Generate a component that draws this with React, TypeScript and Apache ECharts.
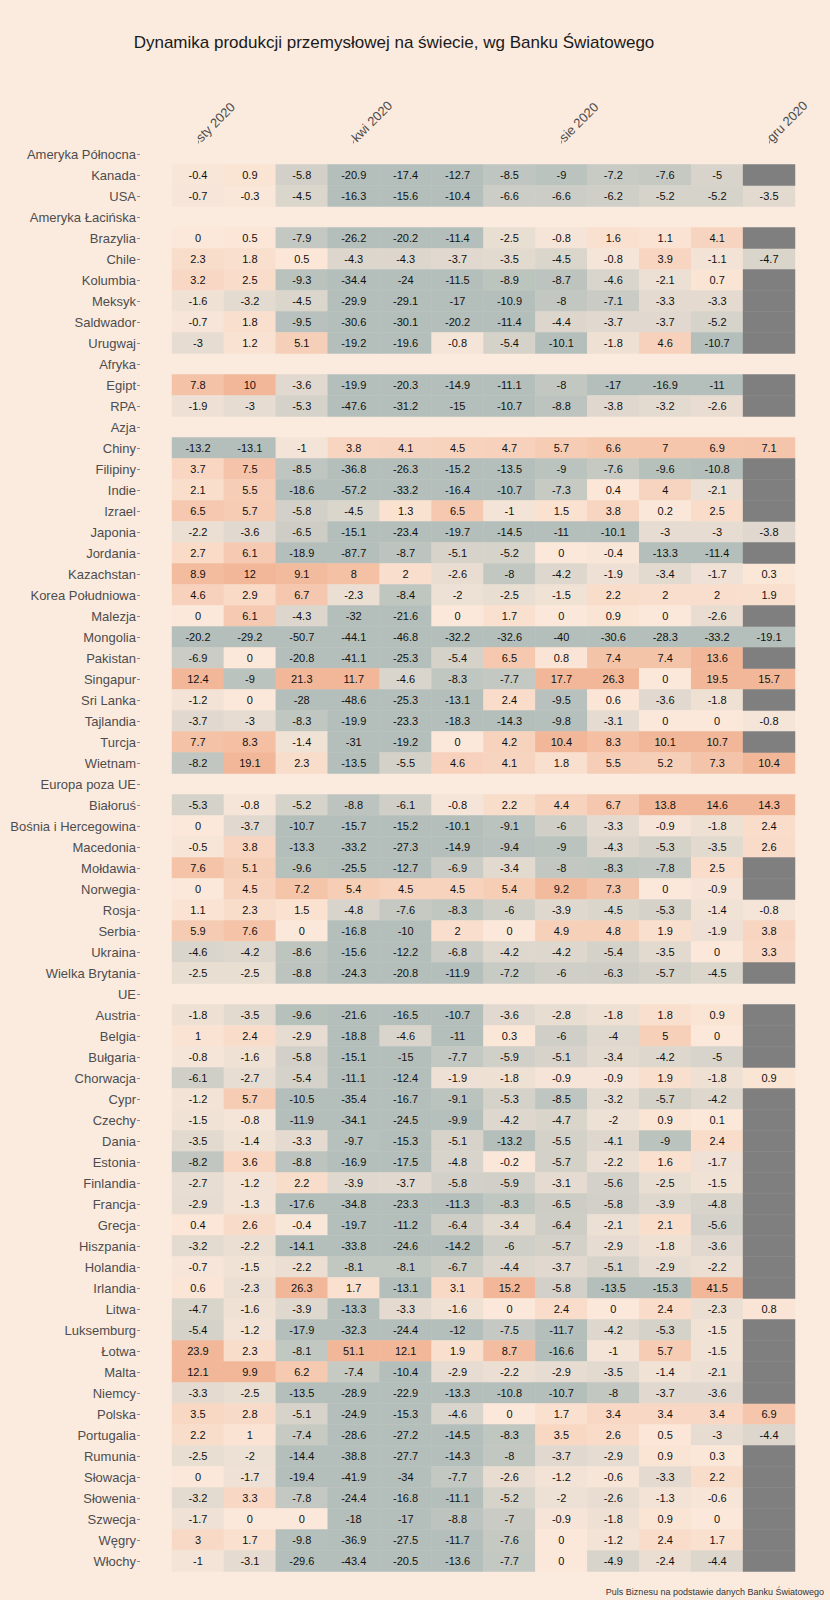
import React, { useEffect, useRef } from "react";
import * as echarts from "echarts";

type Row = [string, (number | null)[]];

const months = [
  "sty 2020", "lut 2020", "mar 2020", "kwi 2020", "maj 2020", "cze 2020",
  "lip 2020", "sie 2020", "wrz 2020", "paź 2020", "lis 2020", "gru 2020",
];
const labeledMonths = [0, 3, 7, 11];

const regionNames = [
  "Ameryka Północna", "Ameryka Łacińska", "Afryka", "Azja", "Europa poza UE", "UE",
];

const northAmerica: Row[] = [
  ["Kanada", [-0.4, 0.9, -5.8, -20.9, -17.4, -12.7, -8.5, -9, -7.2, -7.6, -5, null]],
  ["USA", [-0.7, -0.3, -4.5, -16.3, -15.6, -10.4, -6.6, -6.6, -6.2, -5.2, -5.2, -3.5]],
];

const latinAmerica: Row[] = [
  ["Brazylia", [0, 0.5, -7.9, -26.2, -20.2, -11.4, -2.5, -0.8, 1.6, 1.1, 4.1, null]],
  ["Chile", [2.3, 1.8, 0.5, -4.3, -4.3, -3.7, -3.5, -4.5, -0.8, 3.9, -1.1, -4.7]],
  ["Kolumbia", [3.2, 2.5, -9.3, -34.4, -24, -11.5, -8.9, -8.7, -4.6, -2.1, 0.7, null]],
  ["Meksyk", [-1.6, -3.2, -4.5, -29.9, -29.1, -17, -10.9, -8, -7.1, -3.3, -3.3, null]],
  ["Saldwador", [-0.7, 1.8, -9.5, -30.6, -30.1, -20.2, -11.4, -4.4, -3.7, -3.7, -5.2, null]],
  ["Urugwaj", [-3, 1.2, 5.1, -19.2, -19.6, -0.8, -5.4, -10.1, -1.8, 4.6, -10.7, null]],
];

const africa: Row[] = [
  ["Egipt", [7.8, 10, -3.6, -19.9, -20.3, -14.9, -11.1, -8, -17, -16.9, -11, null]],
  ["RPA", [-1.9, -3, -5.3, -47.6, -31.2, -15, -10.7, -8.8, -3.8, -3.2, -2.6, null]],
];

const asia: Row[] = [
  ["Chiny", [-13.2, -13.1, -1, 3.8, 4.1, 4.5, 4.7, 5.7, 6.6, 7, 6.9, 7.1]],
  ["Filipiny", [3.7, 7.5, -8.5, -36.8, -26.3, -15.2, -13.5, -9, -7.6, -9.6, -10.8, null]],
  ["Indie", [2.1, 5.5, -18.6, -57.2, -33.2, -16.4, -10.7, -7.3, 0.4, 4, -2.1, null]],
  ["Izrael", [6.5, 5.7, -5.8, -4.5, 1.3, 6.5, -1, 1.5, 3.8, 0.2, 2.5, null]],
  ["Japonia", [-2.2, -3.6, -6.5, -15.1, -23.4, -19.7, -14.5, -11, -10.1, -3, -3, -3.8]],
  ["Jordania", [2.7, 6.1, -18.9, -87.7, -8.7, -5.1, -5.2, 0, -0.4, -13.3, -11.4, null]],
  ["Kazachstan", [8.9, 12, 9.1, 8, 2, -2.6, -8, -4.2, -1.9, -3.4, -1.7, 0.3]],
  ["Korea Południowa", [4.6, 2.9, 6.7, -2.3, -8.4, -2, -2.5, -1.5, 2.2, 2, 2, 1.9]],
  ["Malezja", [0, 6.1, -4.3, -32, -21.6, 0, 1.7, 0, 0.9, 0, -2.6, null]],
  ["Mongolia", [-20.2, -29.2, -50.7, -44.1, -46.8, -32.2, -32.6, -40, -30.6, -28.3, -33.2, -19.1]],
  ["Pakistan", [-6.9, 0, -20.8, -41.1, -25.3, -5.4, 6.5, 0.8, 7.4, 7.4, 13.6, null]],
  ["Singapur", [12.4, -9, 21.3, 11.7, -4.6, -8.3, -7.7, 17.7, 26.3, 0, 19.5, 15.7]],
  ["Sri Lanka", [-1.2, 0, -28, -48.6, -25.3, -13.1, 2.4, -9.5, 0.6, -3.6, -1.8, null]],
  ["Tajlandia", [-3.7, -3, -8.3, -19.9, -23.3, -18.3, -14.3, -9.8, -3.1, 0, 0, -0.8]],
  ["Turcja", [7.7, 8.3, -1.4, -31, -19.2, 0, 4.2, 10.4, 8.3, 10.1, 10.7, null]],
  ["Wietnam", [-8.2, 19.1, 2.3, -13.5, -5.5, 4.6, 4.1, 1.8, 5.5, 5.2, 7.3, 10.4]],
];

const europeNonEU: Row[] = [
  ["Białoruś", [-5.3, -0.8, -5.2, -8.8, -6.1, -0.8, 2.2, 4.4, 6.7, 13.8, 14.6, 14.3]],
  ["Bośnia i Hercegowina", [0, -3.7, -10.7, -15.7, -15.2, -10.1, -9.1, -6, -3.3, -0.9, -1.8, 2.4]],
  ["Macedonia", [-0.5, 3.8, -13.3, -33.2, -27.3, -14.9, -9.4, -9, -4.3, -5.3, -3.5, 2.6]],
  ["Mołdawia", [7.6, 5.1, -9.6, -25.5, -12.7, -6.9, -3.4, -8, -8.3, -7.8, 2.5, null]],
  ["Norwegia", [0, 4.5, 7.2, 5.4, 4.5, 4.5, 5.4, 9.2, 7.3, 0, -0.9, null]],
  ["Rosja", [1.1, 2.3, 1.5, -4.8, -7.6, -8.3, -6, -3.9, -4.5, -5.3, -1.4, -0.8]],
  ["Serbia", [5.9, 7.6, 0, -16.8, -10, 2, 0, 4.9, 4.8, 1.9, -1.9, 3.8]],
  ["Ukraina", [-4.6, -4.2, -8.6, -15.6, -12.2, -6.8, -4.2, -4.2, -5.4, -3.5, 0, 3.3]],
  ["Wielka Brytania", [-2.5, -2.5, -8.8, -24.3, -20.8, -11.9, -7.2, -6, -6.3, -5.7, -4.5, null]],
];

const eu: Row[] = [
  ["Austria", [-1.8, -3.5, -9.6, -21.6, -16.5, -10.7, -3.6, -2.8, -1.8, 1.8, 0.9, null]],
  ["Belgia", [1, 2.4, -2.9, -18.8, -4.6, -11, 0.3, -6, -4, 5, 0, null]],
  ["Bułgaria", [-0.8, -1.6, -5.8, -15.1, -15, -7.7, -5.9, -5.1, -3.4, -4.2, -5, null]],
  ["Chorwacja", [-6.1, -2.7, -5.4, -11.1, -12.4, -1.9, -1.8, -0.9, -0.9, 1.9, -1.8, 0.9]],
  ["Cypr", [-1.2, 5.7, -10.5, -35.4, -16.7, -9.1, -5.3, -8.5, -3.2, -5.7, -4.2, null]],
  ["Czechy", [-1.5, -0.8, -11.9, -34.1, -24.5, -9.9, -4.2, -4.7, -2, 0.9, 0.1, null]],
  ["Dania", [-3.5, -1.4, -3.3, -9.7, -15.3, -5.1, -13.2, -5.5, -4.1, -9, 2.4, null]],
  ["Estonia", [-8.2, 3.6, -8.8, -16.9, -17.5, -4.8, -0.2, -5.7, -2.2, 1.6, -1.7, null]],
  ["Finlandia", [-2.7, -1.2, 2.2, -3.9, -3.7, -5.8, -5.9, -3.1, -5.6, -2.5, -1.5, null]],
  ["Francja", [-2.9, -1.3, -17.6, -34.8, -23.3, -11.3, -8.3, -6.5, -5.8, -3.9, -4.8, null]],
  ["Grecja", [0.4, 2.6, -0.4, -19.7, -11.2, -6.4, -3.4, -6.4, -2.1, 2.1, -5.6, null]],
  ["Hiszpania", [-3.2, -2.2, -14.1, -33.8, -24.6, -14.2, -6, -5.7, -2.9, -1.8, -3.6, null]],
  ["Holandia", [-0.7, -1.5, -2.2, -8.1, -8.1, -6.7, -4.4, -3.7, -5.1, -2.9, -2.2, null]],
  ["Irlandia", [0.6, -2.3, 26.3, 1.7, -13.1, 3.1, 15.2, -5.8, -13.5, -15.3, 41.5, null]],
  ["Litwa", [-4.7, -1.6, -3.9, -13.3, -3.3, -1.6, 0, 2.4, 0, 2.4, -2.3, 0.8]],
  ["Luksemburg", [-5.4, -1.2, -17.9, -32.3, -24.4, -12, -7.5, -11.7, -4.2, -5.3, -1.5, null]],
  ["Łotwa", [23.9, 2.3, -8.1, 51.1, 12.1, 1.9, 8.7, -16.6, -1, 5.7, -1.5, null]],
  ["Malta", [12.1, 9.9, 6.2, -7.4, -10.4, -2.9, -2.2, -2.9, -3.5, -1.4, -2.1, null]],
  ["Niemcy", [-3.3, -2.5, -13.5, -28.9, -22.9, -13.3, -10.8, -10.7, -8, -3.7, -3.6, null]],
  ["Polska", [3.5, 2.8, -5.1, -24.9, -15.3, -4.6, 0, 1.7, 3.4, 3.4, 3.4, 6.9]],
  ["Portugalia", [2.2, 1, -7.4, -28.6, -27.2, -14.5, -8.3, 3.5, 2.6, 0.5, -3, -4.4]],
  ["Rumunia", [-2.5, -2, -14.4, -38.8, -27.7, -14.3, -8, -3.7, -2.9, 0.9, 0.3, null]],
  ["Słowacja", [0, -1.7, -19.4, -41.9, -34, -7.7, -2.6, -1.2, -0.6, -3.3, 2.2, null]],
  ["Słowenia", [-3.2, 3.3, -7.8, -24.4, -16.8, -11.1, -5.2, -2, -2.6, -1.3, -0.6, null]],
  ["Szwecja", [-1.7, 0, 0, -18, -17, -8.8, -7, -0.9, -1.8, 0.9, 0, null]],
  ["Węgry", [3, 1.7, -9.8, -36.9, -27.5, -11.7, -7.6, 0, -1.2, 2.4, 1.7, null]],
  ["Włochy", [-1, -3.1, -29.6, -43.4, -20.5, -13.6, -7.7, 0, -4.9, -2.4, -4.4, null]],
];

const regions: Row[][] = [northAmerica, latinAmerica, africa, asia, europeNonEU, eu];

const BG = "#fbebdf";
const FONT = "'Liberation Sans', Arial, Helvetica, sans-serif";

export default function App() {
  const ref = useRef<HTMLDivElement>(null);

  useEffect(() => {
    document.body.style.margin = "0";
    document.body.style.background = BG;
    const chart = echarts.init(ref.current as HTMLDivElement, null, { renderer: "svg" });

    const rowNames: string[] = [];
    const cells: number[][] = [];
    const missing: number[][] = [];
    regions.forEach((rows, ri) => {
      rowNames.push(regionNames[ri]);
      rows.forEach(([name, vals]) => {
        const y = rowNames.length;
        rowNames.push(name);
        vals.forEach((v, x) => {
          if (v === null) missing.push([x, y, 0]);
          else cells.push([x, y, v]);
        });
      });
    });

    const showIdx = (i: number) => labeledMonths.indexOf(i) >= 0;

    chart.setOption({
      animation: false,
      backgroundColor: BG,
      textStyle: { fontFamily: FONT },
      grid: { left: 172, right: 35, top: 143.5, bottom: 28.5, containLabel: false },
      xAxis: {
        type: "category",
        position: "top",
        data: months,
        splitArea: { show: false },
        axisLine: { show: false },
        axisTick: {
          show: true,
          length: 3,
          alignWithLabel: true,
          interval: (i: number) => showIdx(i),
          lineStyle: { color: "#8a8a8a", width: 1 },
        },
        axisLabel: {
          interval: (i: number) => showIdx(i),
          rotate: -45,
          margin: 4,
          fontSize: 13,
          color: "#4d4d4d",
          fontFamily: FONT,
        },
      },
      yAxis: {
        type: "category",
        inverse: true,
        data: rowNames,
        offset: 32,
        splitArea: { show: false },
        axisLine: { show: false },
        axisTick: {
          show: true,
          length: 3,
          alignWithLabel: true,
          interval: 0,
          lineStyle: { color: "#8a8a8a", width: 1 },
        },
        axisLabel: {
          interval: 0,
          margin: 4,
          fontSize: 13,
          color: "#4d4d4d",
          fontFamily: FONT,
        },
      },
      visualMap: [
        {
          type: "continuous",
          show: false,
          seriesIndex: 0,
          dimension: 2,
          min: -10,
          max: 10,
          inRange: { color: ["#b4bfbb", "#fbe8da", "#f2b798"] },
        },
        {
          type: "continuous",
          show: false,
          seriesIndex: 1,
          dimension: 2,
          min: -1,
          max: 1,
          inRange: { color: ["#7f7f7f", "#7f7f7f"] },
        },
      ],
      series: [
        {
          type: "heatmap",
          data: cells,
          itemStyle: { borderWidth: 0 },
          label: {
            show: true,
            fontSize: 11,
            color: "#111111",
            fontFamily: FONT,
            formatter: (p: any) => String(p.value[2]),
          },
          emphasis: { disabled: true },
        },
        {
          type: "heatmap",
          data: missing,
          itemStyle: { color: "#7f7f7f", borderWidth: 0 },
          label: { show: false },
          emphasis: { disabled: true },
        },
      ],
      graphic: [
        {
          type: "text",
          x: 394,
          y: 42,
          style: {
            text: "Dynamika produkcji przemysłowej na świecie, wg Banku Światowego",
            font: `17px ${FONT}`,
            fill: "#1a1a1a",
            textAlign: "center",
            textVerticalAlign: "middle",
          },
        },
        {
          type: "text",
          x: 824,
          y: 1592,
          style: {
            text: "Puls Biznesu na podstawie danych Banku Światowego",
            font: `9px ${FONT}`,
            fill: "#333333",
            textAlign: "right",
            textVerticalAlign: "middle",
          },
        },
      ],
    });

    return () => chart.dispose();
  }, []);

  return <div ref={ref} style={{ width: 830, height: 1600 }} />;
}
